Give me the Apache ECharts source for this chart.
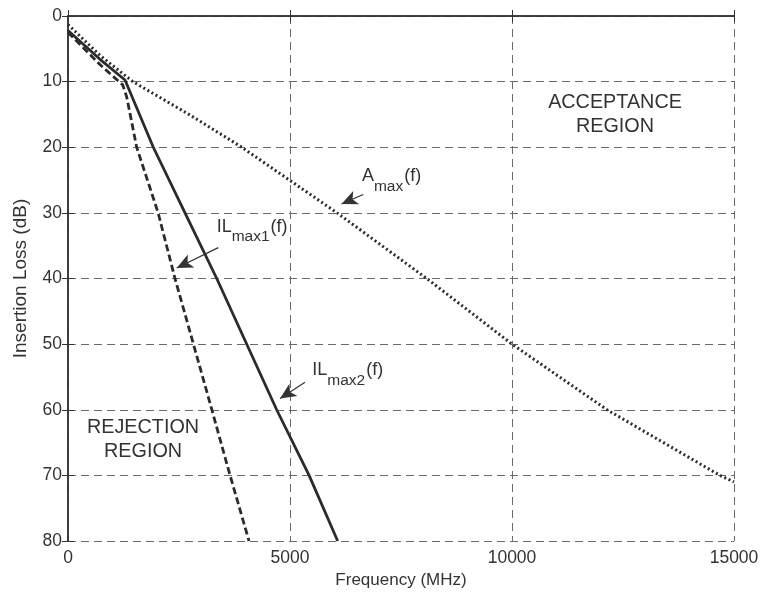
<!DOCTYPE html>
<html>
<head>
<meta charset="utf-8">
<script src="https://cdn.jsdelivr.net/npm/echarts@6/dist/echarts.min.js"></script>
<style>
  html, body { margin: 0; padding: 0; background: #fff; }
  #chart { width: 763px; height: 599px; }
</style>
</head>
<body>
<div id="chart"></div>
<script>
// values (frequency in MHz, insertion loss in dB)
const freqAmax = [0, 720, 1460, 2750, 3870, 6060, 8080, 10000, 12140, 14680, 15000]
const lossAmax = [1.3, 6.0, 10, 15.1, 19.8, 30, 40, 50, 60, 70, 71.0]

const freqIL1 = [0, 720, 1232, 1321, 1547, 2030, 2410, 3240, 3650, 4077]
const lossIL1 = [2.5, 7.4, 10.5, 12.3, 20, 30, 40, 60, 70, 80]

const freqIL2 = [0, 720, 1284, 1921, 2635, 3350, 4700, 5430, 6074]
const lossIL2 = [2.2, 6.6, 9.75, 20, 30, 40, 60, 70, 80]

// annotation arrows: [tailFreq, tailLoss, tipFreq, tipLoss]
const arrowAmax = [6650, 27.2, 6160, 28.65]
const arrowIL1 = [3385, 35.3, 2448, 38.4]
const arrowIL2 = [5338, 55.8, 4775, 58.3]

const FONT = '"Liberation Sans", Arial, Helvetica, sans-serif'
const INK = '#333'

const toPairs = (xs, ys) => xs.map((x, i) => [x, ys[i]])
const arrow = a => [{ coord: [a[0], a[1]] }, { coord: [a[2], a[3]] }]

const chart = echarts.init(document.getElementById('chart'))

const baseX = {
  type: 'value',
  min: 0,
  max: 15000,
  interval: 5000,
  axisLine: { show: true, lineStyle: { color: INK, width: 1.5 } },
  axisTick: { show: true, inside: true, length: 6, lineStyle: { color: INK } }
}
const baseY = {
  type: 'value',
  min: 0,
  max: 80,
  interval: 10,
  inverse: true,
  axisLine: { show: true, lineStyle: { color: INK, width: 1.5 } },
  axisTick: { show: true, inside: true, length: 6, lineStyle: { color: INK } }
}
const gridLine = { show: true, lineStyle: { color: '#6a6a6a', width: 1, type: [8, 5] } }

chart.setOption({
  animation: false,
  backgroundColor: '#fff',
  grid: { left: 68, right: 29, top: 16, bottom: 58 },
  xAxis: [
    {
      ...baseX,
      position: 'bottom',
      name: 'Frequency (MHz)',
      nameLocation: 'middle',
      nameGap: 28,
      nameTextStyle: { color: INK, fontSize: 17, fontFamily: FONT },
      axisLabel: { color: INK, fontSize: 17.5, fontFamily: FONT, margin: 8, formatter: v => String(v) },
      splitLine: gridLine
    },
    { ...baseX, position: 'top', axisLabel: { show: false }, splitLine: { show: false } }
  ],
  yAxis: [
    {
      ...baseY,
      position: 'left',
      name: 'Insertion Loss (dB)',
      nameLocation: 'middle',
      nameGap: 38,
      nameTextStyle: { color: INK, fontSize: 19, fontFamily: FONT },
      axisLabel: { color: INK, fontSize: 17.5, fontFamily: FONT, margin: 6, formatter: v => String(v) },
      splitLine: gridLine
    },
    { ...baseY, position: 'right', axisLabel: { show: false }, splitLine: { show: false } }
  ],
  series: [
    {
      name: 'Amax',
      type: 'line',
      data: toPairs(freqAmax, lossAmax),
      showSymbol: false,
      lineStyle: { color: '#2b2b2b', width: 3, type: [2, 2.7] },
      markLine: {
        silent: true,
        symbol: ['none', 'arrow'],
        symbolSize: [11, 16],
        label: { show: false },
        lineStyle: { color: INK, width: 1.2, type: 'solid' },
        data: [arrow(arrowAmax), arrow(arrowIL1), arrow(arrowIL2)]
      }
    },
    {
      name: 'IL1',
      type: 'line',
      data: toPairs(freqIL1, lossIL1),
      showSymbol: false,
      lineStyle: { color: '#2b2b2b', width: 2.8, type: [7, 3.5] }
    },
    {
      name: 'IL2',
      type: 'line',
      data: toPairs(freqIL2, lossIL2),
      showSymbol: false,
      lineStyle: { color: '#2b2b2b', width: 2.8 }
    }
  ]
})

// text annotations, anchored in data space
const px = (f, l) => chart.convertToPixel({ xAxisIndex: 0, yAxisIndex: 0 }, [f, l])
const ctx = document.createElement('canvas').getContext('2d')
const textWidth = (text, size) => {
  ctx.font = size + 'px ' + FONT
  return ctx.measureText(text).width
}

const MAIN = 18
const SUB = 15.5

// main text, subscript, main text again; (f, l) is the centre line of the main text
const subLabel = (f, l, head, sub, tail) => {
  const [x, y] = px(f, l)
  const x2 = x + textWidth(head, MAIN)
  const x3 = x2 + textWidth(sub, SUB) + 1
  const piece = (tx, ty, text, size) => ({
    type: 'text', x: tx, y: ty, silent: true,
    style: { text, fill: INK, fontSize: size, fontFamily: FONT, align: 'left', verticalAlign: 'middle' }
  })
  return [
    piece(x, y, head, MAIN),
    piece(x2, y + 10, sub, SUB),
    piece(x3, y, tail, MAIN)
  ]
}
const regionAt = (f, l, text) => {
  const [x, y] = px(f, l)
  return {
    type: 'text', x, y, silent: true,
    style: {
      text, align: 'center', verticalAlign: 'middle', fill: INK,
      fontSize: 19.8, fontFamily: FONT, lineHeight: 24
    }
  }
}

chart.setOption({
  graphic: [
    ...subLabel(6620, 24.44, 'A', 'max', '(f)'),
    ...subLabel(3349, 32.15, 'IL', 'max1', '(f)'),
    ...subLabel(5502, 54.0, 'IL', 'max2', '(f)'),
    regionAt(12320, 15.0, 'ACCEPTANCE\nREGION'),
    regionAt(1690, 64.6, 'REJECTION\nREGION')
  ]
})
</script>
</body>
</html>
